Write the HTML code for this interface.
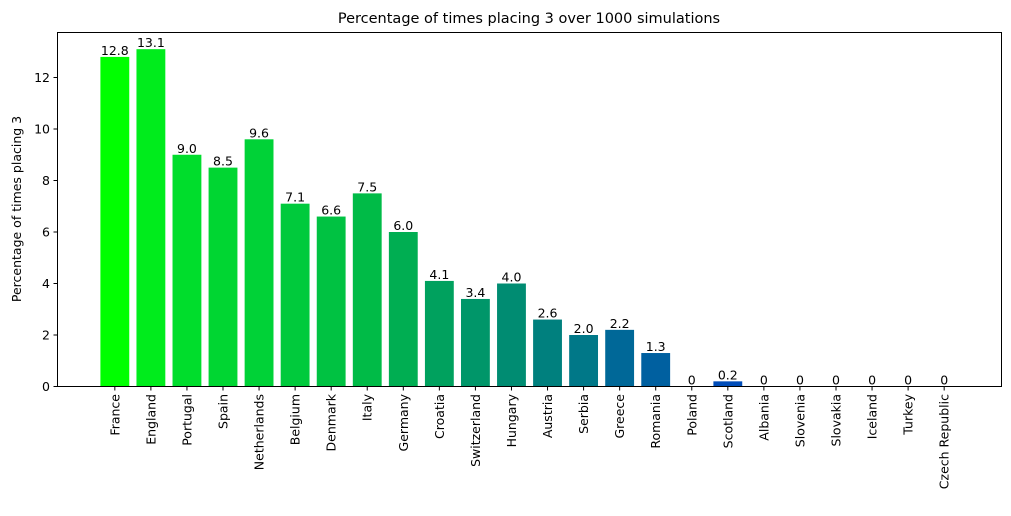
<!DOCTYPE html>
<html><head><meta charset="utf-8"><style>
body{margin:0;background:#fff;}
svg text{font-family:"DejaVu Sans","Liberation Sans",sans-serif;}
</style></head><body>
<svg id="chart" width="1011" height="511" xmlns="http://www.w3.org/2000/svg">
<rect width="1011" height="511" fill="#fff"/>
<text x="529" y="23" text-anchor="middle" font-size="14.5">Percentage of times placing 3 over 1000 simulations</text>
<text transform="translate(21,209) rotate(-90)" text-anchor="middle" font-size="12.5">Percentage of times placing 3</text>
<g id="ticks"></g><g id="bars"></g>
<rect x="57.5" y="32.5" width="944" height="354" fill="none" stroke="#000" stroke-width="1"/>
</svg>
<script>
const categories=["France","England","Portugal","Spain","Netherlands","Belgium","Denmark","Italy","Germany","Croatia","Switzerland","Hungary","Austria","Serbia","Greece","Romania","Poland","Scotland","Albania","Slovenia","Slovakia","Iceland","Turkey","Czech Republic"];
const values=[12.8,13.1,9.0,8.5,9.6,7.1,6.6,7.5,6.0,4.1,3.4,4.0,2.6,2.0,2.2,1.3,0,0.2,0,0,0,0,0,0];
const labels=["12.8","13.1","9.0","8.5","9.6","7.1","6.6","7.5","6.0","4.1","3.4","4.0","2.6","2.0","2.2","1.3","0","0.2","0","0","0","0","0","0"];
const colors=["#00ff00","#00ec1c","#00dd2c","#00d632","#00d237","#00ca3c","#00c242","#00bb47","#00ae52","#00a15e","#009669","#008c72","#00807e","#007888","#006898","#0060a0","#0058aa","#004cb8","#0046c0","#0040c8","#003ad0","#0034d8","#002ee0","#0028e8"];
const yTicks=[0,2,4,6,8,10,12];
const NS="http://www.w3.org/2000/svg";
const n=categories.length;
const x0=-1.59, x1=n-1+1.59, L=57.5, R=1001.5;
const xs=i=>L+(i-x0)/(x1-x0)*(R-L);
const ys=v=>386.5-v*25.75;
const bw=0.8*(R-L)/(x1-x0);
const bars=document.getElementById('bars'), ticks=document.getElementById('ticks');
function mk(t,a,p){const e=document.createElementNS(NS,t);for(const k in a)e.setAttribute(k,a[k]);p.appendChild(e);return e;}
yTicks.forEach(v=>{
  const g=mk('g',{},ticks);
  
  
  mk('line',{x1:53.5,x2:57.5,y1:ys(v),y2:ys(v),stroke:'#000'},g);
  const t=mk('text',{x:50,y:ys(v)+4.5,'text-anchor':'end','font-size':'12.5'},g);t.textContent=v;
});
categories.forEach((c,i)=>{
  const cx=xs(i);
  const r=mk('rect',{x:cx-bw/2,y:ys(values[i]),width:bw,height:Math.max(0,386.5-ys(values[i])),fill:colors[i]},bars);
  
  
  const vl=mk('text',{x:cx,y:ys(values[i])-2,'text-anchor':'middle','font-size':'12.5'},bars);vl.textContent=labels[i];
  
  
  mk('line',{x1:cx,x2:cx,y1:386.5,y2:390.5,stroke:'#000'},ticks);
  const t=mk('text',{transform:`translate(${cx+4.5},394) rotate(-90)`,'text-anchor':'end','font-size':'12.5'},ticks);t.textContent=c;
  
  
});
</script>
</body></html>
